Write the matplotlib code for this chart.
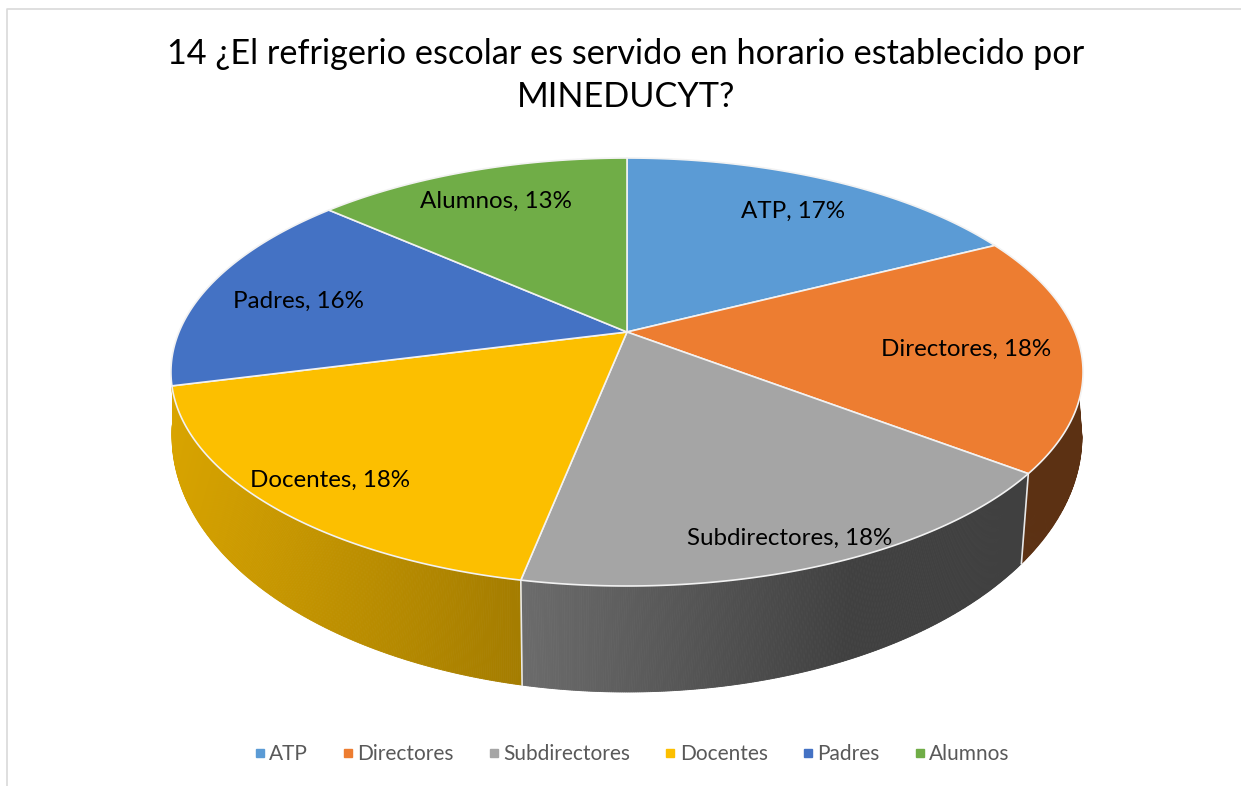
import numpy as np
import matplotlib
matplotlib.use('Agg')
import matplotlib.pyplot as plt
from matplotlib.lines import Line2D

plt.rcParams['font.family'] = ['Lato', 'DejaVu Sans']

categorias = ['ATP', 'Directores', 'Subdirectores', 'Docentes', 'Padres', 'Alumnos']
valores = [17.49, 17.91, 17.7, 17.9, 15.55, 13.45]
colores = ['#5B9BD5', '#ED7D31', '#A5A5A5', '#FCBF00', '#4472C4', '#70AD47']
titulo = '14 ¿El refrigerio escolar es servido en horario establecido por\nMINEDUCYT?'

# posicion de las etiquetas en pixeles
etiq_x = [793, 966, 790, 330, 298, 496]
etiq_y = [211, 349, 538, 480, 301, 201]

# desfase entre el angulo de arriba y el de abajo de la pared
pared_ang = [108, 127.5, 190.8, 255.4]
pared_des = [-11, -1.7, 0.6, 12.4]

fig = plt.figure(figsize=(12.41, 7.86), dpi=100)
ax = fig.add_axes([0, 0, 1, 1])
ax.set_xlim(0, 1241)
ax.set_ylim(786, 0)
ax.axis('off')


# cara superior: circulo con perspectiva
def arriba(grados):
    t = np.radians(grados)
    d = 1 + 0.187 * np.cos(t)
    return 627 + 448 * np.sin(t) / d, 332 - 206.5 * np.cos(t) / d


# borde inferior de la pared
def abajo(grados):
    t = np.radians(grados)
    d = 1 + 0.12 * np.cos(t)
    return 627 + 451.7 * np.sin(t) / d, 405.3 - 252.3 * np.cos(t) / d


def sombra(x):
    return np.interp(x, [172, 522, 850, 1090], [0.86, 0.65, 0.39, 0.39])


limites = np.concatenate([[0], np.cumsum(valores)]) * 3.6

# marco
ax.plot([7, 7, 1241], [786, 8.5, 8.5], color='#D9D9D9', lw=1.2)

# paredes
for i in range(len(valores)):
    ini = max(limites[i], pared_ang[0])
    fin = min(limites[i + 1], pared_ang[-1])
    if fin <= ini:
        continue
    base = np.array(matplotlib.colors.to_rgb(colores[i]))
    ang = np.linspace(ini, fin, int((fin - ini) * 5) + 2)
    for a0, a1 in zip(ang[:-1], ang[1:]):
        x0, y0 = arriba(a0)
        x1, y1 = arriba(a1)
        x2, y2 = abajo(a1 + np.interp(a1, pared_ang, pared_des))
        x3, y3 = abajo(a0 + np.interp(a0, pared_ang, pared_des))
        c = base * sombra((x0 + x1) / 2)
        ax.fill([x0, x1, x2, x3], [y0, y1, y2, y3], color=c, lw=0.6, zorder=2)
    # separacion blanca entre paredes
    if pared_ang[0] < limites[i + 1] < 250:
        d = np.interp(limites[i + 1], pared_ang, pared_des)
        xa, ya = arriba(limites[i + 1])
        xb, yb = abajo(limites[i + 1] + d)
        ax.plot([xa, xb], [ya, yb], color='#E8E8E8', lw=1.2, zorder=3)

# cara superior
for i in range(len(valores)):
    ang = np.linspace(limites[i], limites[i + 1], 200)
    xs, ys = arriba(ang)
    xs = np.concatenate([[627], xs])
    ys = np.concatenate([[332], ys])
    ax.fill(xs, ys, facecolor=colores[i], edgecolor='#F2F2F2', lw=1.2, zorder=4)

# etiquetas
for i in range(len(valores)):
    txt = '%s, %d%%' % (categorias[i], round(valores[i]))
    ax.text(etiq_x[i], etiq_y[i], txt, ha='center', va='center', fontsize=17.4,
            color='black', zorder=5)

ax.text(626, 75.5, titulo, ha='center', va='center', fontsize=24.7, color='black',
        linespacing=1.45)

# leyenda
marcas = [Line2D([], [], ls='', marker='s', ms=6, color=c) for c in colores]
ax.legend(marcas, categorias, loc='center', bbox_to_anchor=(629, 754),
          bbox_transform=ax.transData, ncol=6, frameon=False, fontsize=15,
          labelcolor='#595959', handletextpad=-0.1, columnspacing=1.37,
          handlelength=1.1)

plt.savefig('out.png', dpi=100)
